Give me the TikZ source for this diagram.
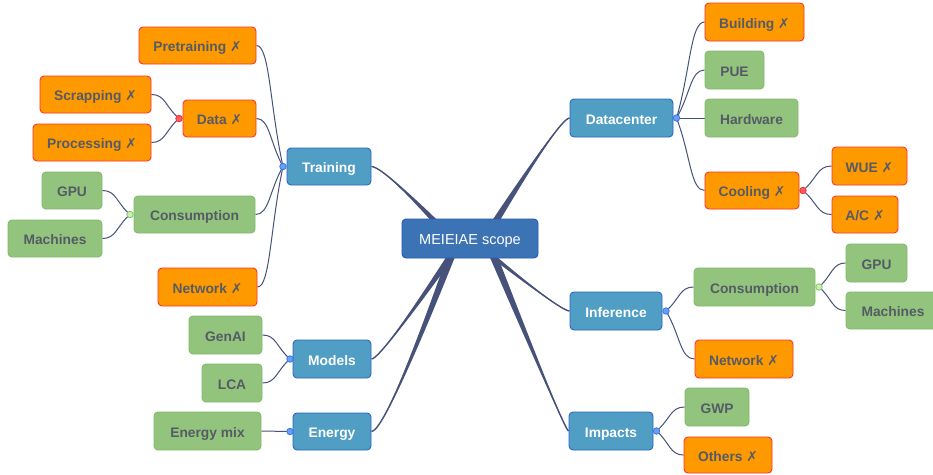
\documentclass[tikz,border=0pt]{standalone}
\usepackage{fontspec}
\setmainfont{Liberation Sans}
\newfontfamily\symfont{DejaVu Sans}
\usetikzlibrary{calc}

\definecolor{txtgray}{HTML}{555B66}
\definecolor{ora}{HTML}{FF9900}
\definecolor{orared}{HTML}{FF3030}
\definecolor{grn}{HTML}{93C47D}
\definecolor{grnedge}{HTML}{82B96B}
\definecolor{blu}{HTML}{519EC4}
\definecolor{bluedge}{HTML}{2B66C6}
\definecolor{rootfill}{HTML}{3C73B5}
\definecolor{rootedge}{HTML}{2457B8}
\definecolor{branchcol}{HTML}{46527A}
\definecolor{dotblue}{HTML}{6A9EF5}
\definecolor{dotblueedge}{HTML}{3877E8}
\definecolor{dotred}{HTML}{FF5A5A}
\definecolor{dotrededge}{HTML}{E8323C}
\definecolor{dotgreen}{HTML}{C8F0B0}
\definecolor{dotgreenedge}{HTML}{86C46C}

% branches live on a layer below the boxes
\pgfdeclarelayer{branches}
\pgfsetlayers{branches,main}

\newcommand\xmark{{\symfont\mdseries ✗}}

% box given by its corners (x0,y0)-(x1,y1), y pointing down
\newcommand\mmbox[7]{%
  \node[#1, minimum width={(#5-#3)*1pt}, minimum height={(#6-#4)*1pt}]
    (#2) at ({(#3+#5)/2},{(#4+#6)/2}) {#7};}

% tapered main branch: start coordinate, bend coordinate, end anchor
\newcommand\mainbranch[3]{%
  \fill[branchcol]
    ([xshift=-4.5pt]#1) .. controls ($([xshift=-4.5pt]#1)!2/3!(#2)$) and ($(#3)!2/3!(#2)$) .. (#3)
    .. controls ($(#3)!2/3!(#2)$) and ($([xshift=4.5pt]#1)!2/3!(#2)$) .. ([xshift=4.5pt]#1) -- cycle;
  \draw[branchcol, line width=1.4pt]
    (#1) .. controls ($(#1)!2/3!(#2)$) and ($(#3)!2/3!(#2)$) .. (#3);}

% thin branch from a parent dot to a child side
\newcommand\subbranch[2]{%
  \draw[twig] (#1.center) .. controls ($(#1.center)!0.5!(#2)$) and ($(#2)!0.5!(#1.center|-#2)$) .. (#2);}

\tikzset{
  box/.style={rounded corners=4pt, draw, line width=0.9pt, inner sep=0pt,
    text height=12.5pt, text depth=0pt,
    font=\fontsize{13.8}{16}\selectfont\bfseries, text=txtgray},
  orangebox/.style={box, fill=ora, draw=orared},
  greenbox/.style={box, fill=grn, draw=grnedge},
  bluebox/.style={box, fill=blu, draw=bluedge, text=white},
  rootbox/.style={box, fill=rootfill, draw=rootedge, text=white,
    font=\fontsize{14.5}{17}\selectfont},
  twig/.style={draw=branchcol, line width=1pt},
  dot/.style={circle, inner sep=0pt, minimum size=6.5pt, line width=0.8pt},
  bluedot/.style={dot, fill=dotblue, draw=dotblueedge},
  reddot/.style={dot, fill=dotred, draw=dotrededge},
  greendot/.style={dot, fill=dotgreen, draw=dotgreenedge},
}

\begin{document}
\begin{tikzpicture}[x=1pt, y=-1pt]
\useasboundingbox (0,0) rectangle (933,474);
\clip (0,0) rectangle (933,474);
\begin{pgfonlayer}{branches}
\fill[white] (0,0) rectangle (933,474);
\end{pgfonlayer}

% root and first level
\mmbox{rootbox}{root}{402}{219}{538}{258}{MEIEIAE scope}
\mmbox{bluebox}{training}{287}{148}{371}{185}{Training}
\mmbox{bluebox}{models}{293}{340}{371}{378}{Models}
\mmbox{bluebox}{energy}{293}{413}{371}{450}{Energy}
\mmbox{bluebox}{datacenter}{570}{99}{673}{137}{Datacenter}
\mmbox{bluebox}{inference}{570}{292}{662}{330}{Inference}
\mmbox{bluebox}{impacts}{569}{412}{653}{450}{Impacts}

% left side leaves
\mmbox{orangebox}{pretraining}{139}{27}{256}{64}{Pretraining \xmark}
\mmbox{orangebox}{data}{183}{100}{256}{137}{Data \xmark}
\mmbox{orangebox}{scrapping}{40}{76}{151}{113}{Scrapping \xmark}
\mmbox{orangebox}{processing}{33}{124}{151}{161}{Processing \xmark}
\mmbox{greenbox}{consL}{134}{196}{255}{233}{Consumption}
\mmbox{greenbox}{gpuL}{42}{172}{102}{209}{GPU}
\mmbox{greenbox}{machinesL}{8}{220}{102}{257}{Machines}
\mmbox{orangebox}{netL}{158}{268}{257}{306}{Network \xmark}
\mmbox{greenbox}{genai}{189}{316}{262}{354}{GenAI}
\mmbox{greenbox}{lca}{202}{364}{262}{402}{LCA}
\mmbox{greenbox}{energymix}{154}{412}{261}{450}{Energy mix}

% right side leaves
\mmbox{orangebox}{building}{705}{3}{804}{41}{Building \xmark}
\mmbox{greenbox}{pue}{705}{51}{764}{89}{PUE}
\mmbox{greenbox}{hardware}{705}{99}{798}{137}{Hardware}
\mmbox{orangebox}{cooling}{705}{172}{799}{209}{Cooling \xmark}
\mmbox{orangebox}{wue}{832}{147}{907}{185}{WUE \xmark}
\mmbox{orangebox}{ac}{832}{196}{898}{233}{A/C \xmark}
\mmbox{greenbox}{consR}{694}{268}{815}{306}{Consumption}
\mmbox{greenbox}{gpuR}{846}{244}{907}{282}{GPU}
\mmbox{greenbox}{machinesR}{846}{292}{940}{329}{Machines}
\mmbox{orangebox}{netR}{695}{340}{793}{378}{Network \xmark}
\mmbox{greenbox}{gwp}{685}{388}{749}{426}{GWP}
\mmbox{orangebox}{others}{684}{437}{772}{473}{Others \xmark}

% junction dots
\node[bluedot] (trdot) at (283,166.5) {};
\node[reddot] (dadot) at (179,118.5) {};
\node[greendot] (cLdot) at (130,214.5) {};
\node[bluedot] (modot) at (290,359) {};
\node[bluedot] (endot) at (290,431.5) {};
\node[bluedot] (dcdot) at (676.5,118) {};
\node[reddot] (codot) at (803,190.5) {};
\node[bluedot] (indot) at (666,311) {};
\node[greendot] (cRdot) at (819,287) {};
\node[bluedot] (imdot) at (656.5,431) {};

\begin{pgfonlayer}{branches}
% main branches, starting under the root
\coordinate (trS) at (451,238);  \coordinate (trC) at (384,167);
\coordinate (moS) at (463,238);  \coordinate (moC) at (381,359);
\coordinate (enS) at (458,238);  \coordinate (enC) at (386,431);
\coordinate (dcS) at (485,238);  \coordinate (dcC) at (560,118);
\coordinate (inS) at (470,238);  \coordinate (inC) at (560,311);
\coordinate (imS) at (486,238);  \coordinate (imC) at (565,431);
\mainbranch{trS}{trC}{training.east}
\mainbranch{moS}{moC}{models.east}
\mainbranch{enS}{enC}{energy.east}
\mainbranch{dcS}{dcC}{datacenter.west}
\mainbranch{inS}{inC}{inference.west}
\mainbranch{imS}{imC}{impacts.west}

% thin branches
\subbranch{trdot}{pretraining.east}
\subbranch{trdot}{data.east}
\subbranch{trdot}{consL.east}
\subbranch{trdot}{netL.east}
\subbranch{dadot}{scrapping.east}
\subbranch{dadot}{processing.east}
\subbranch{cLdot}{gpuL.east}
\subbranch{cLdot}{machinesL.east}
\subbranch{modot}{genai.east}
\subbranch{modot}{lca.east}
\subbranch{endot}{energymix.east}
\subbranch{dcdot}{building.west}
\subbranch{dcdot}{pue.west}
\subbranch{dcdot}{hardware.west}
\subbranch{dcdot}{cooling.west}
\subbranch{codot}{wue.west}
\subbranch{codot}{ac.west}
\subbranch{indot}{consR.west}
\subbranch{indot}{netR.west}
\subbranch{cRdot}{gpuR.west}
\subbranch{cRdot}{machinesR.west}
\subbranch{imdot}{gwp.west}
\subbranch{imdot}{others.west}
\end{pgfonlayer}
\end{tikzpicture}
\end{document}
